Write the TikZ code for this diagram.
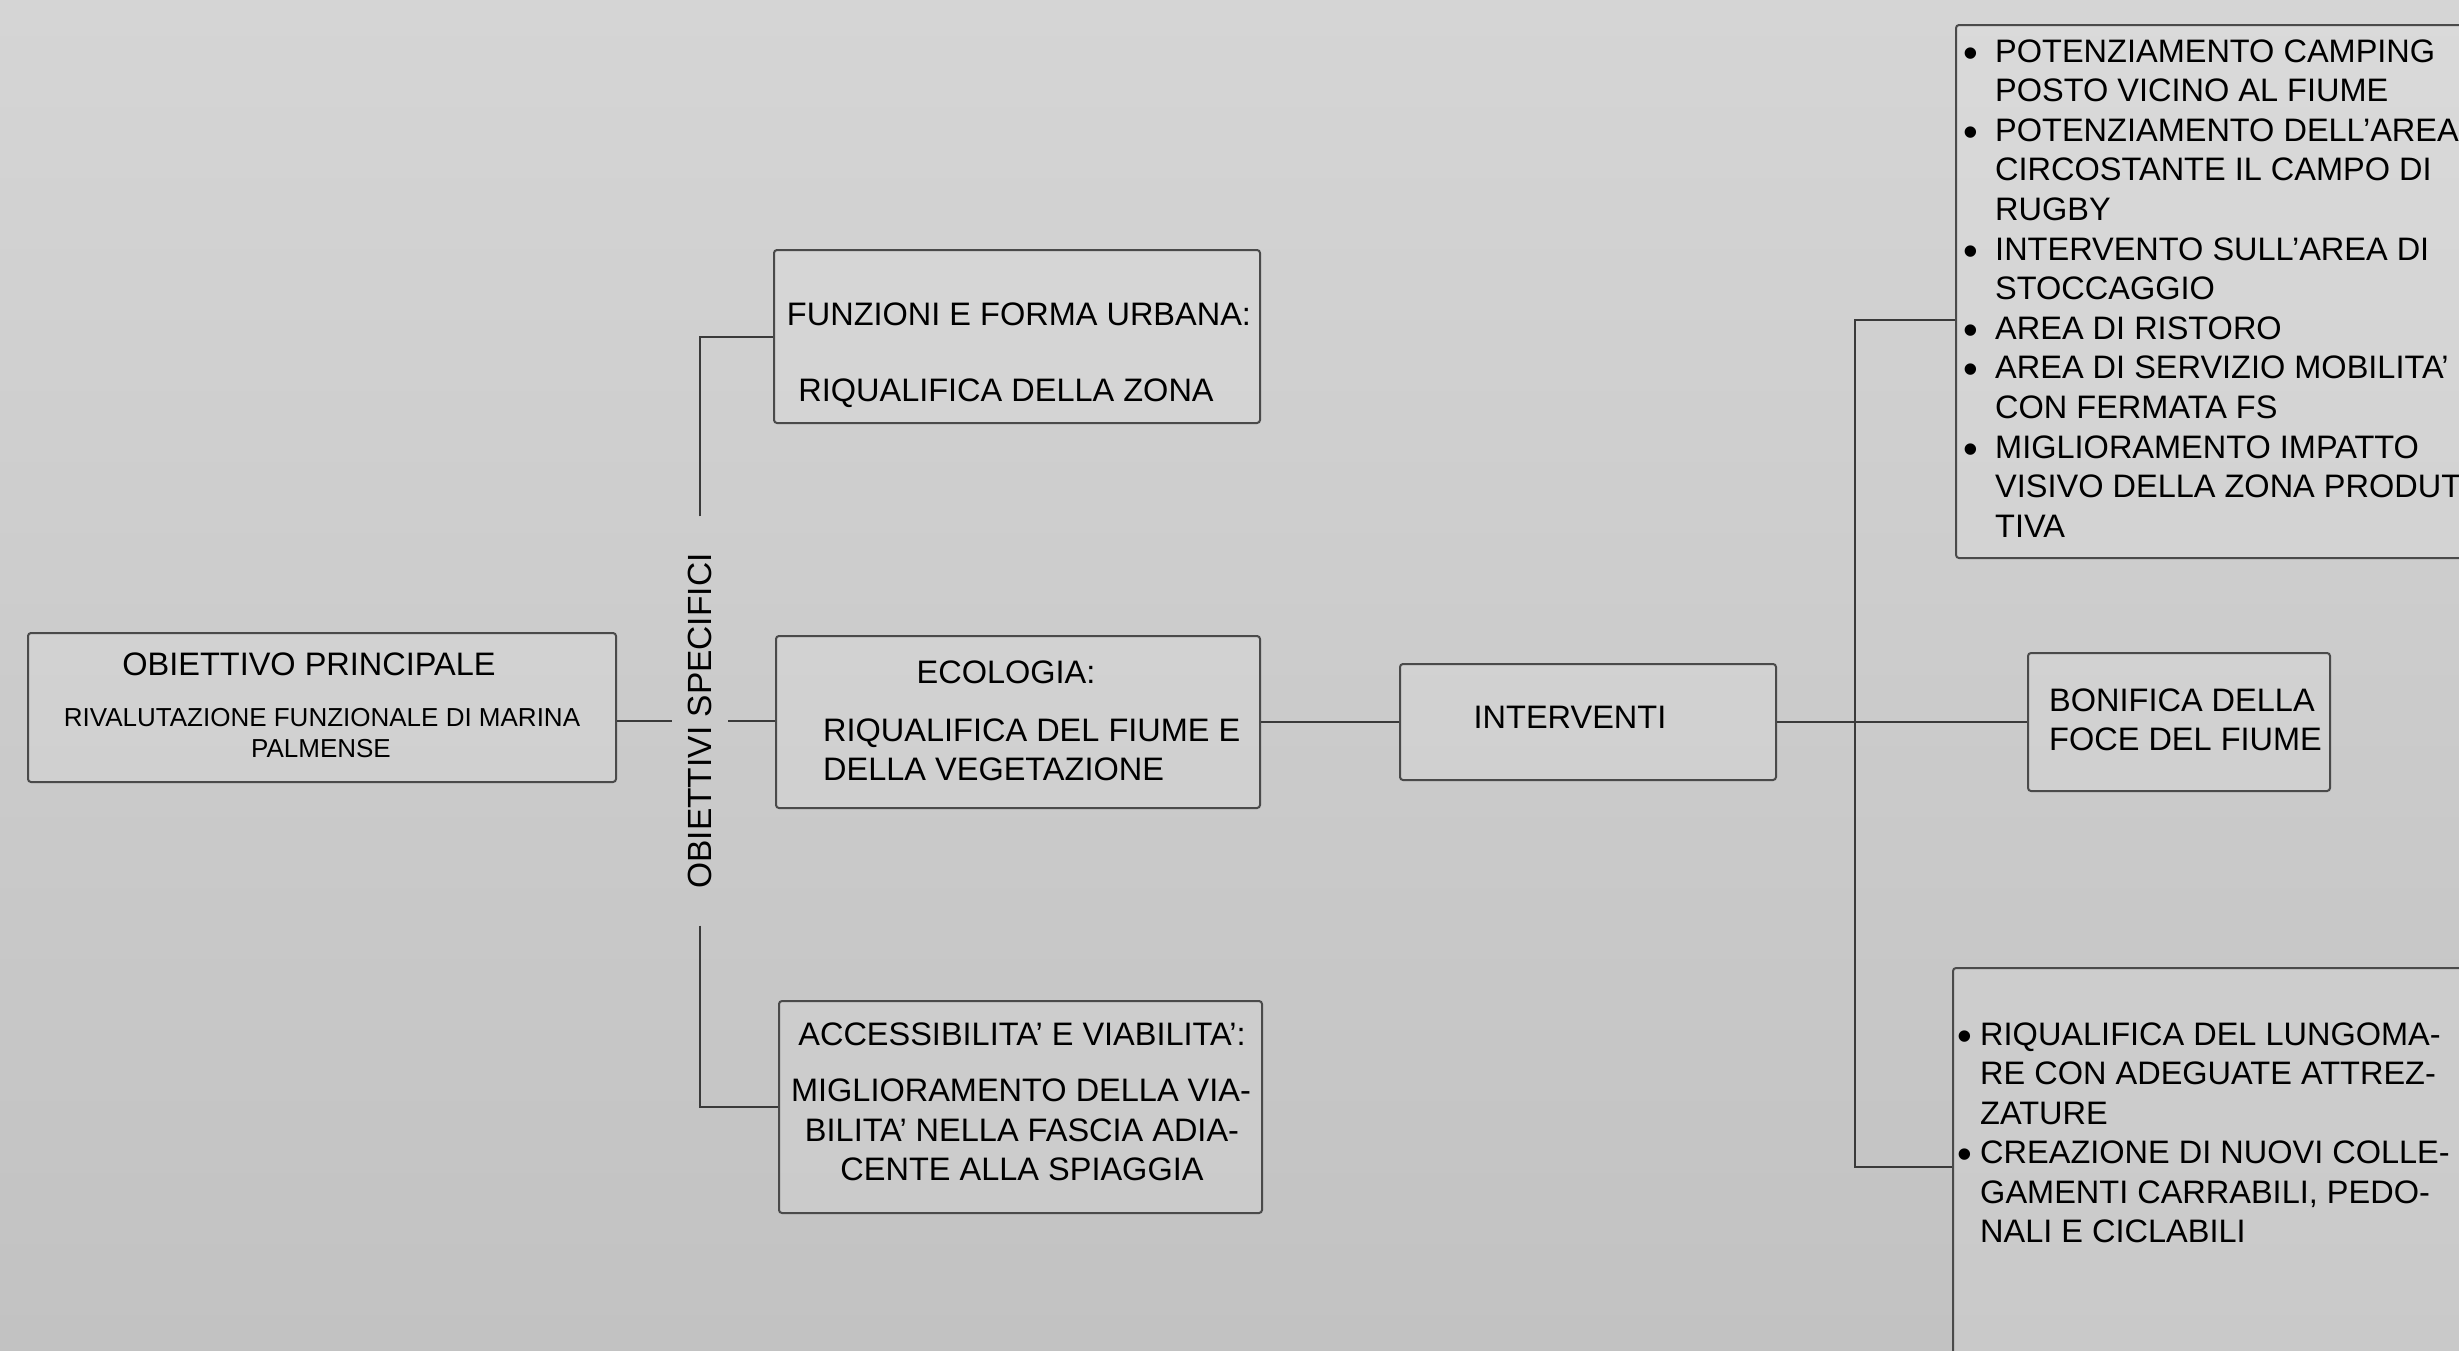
\documentclass[tikz,border=0pt]{standalone}
\usepackage{fontspec}
\setmainfont{Liberation Sans}
\definecolor{bgtop}{HTML}{D5D5D5}
\definecolor{bgbot}{HTML}{C2C2C2}
\definecolor{boxline}{HTML}{4A4A4A}
\definecolor{lineclr}{HTML}{3A3A3A}
\newcommand\bigbul{\smash{\raisebox{-5pt}{\fontsize{42}{42}\selectfont •}}}
\newcommand\bulA{\llap{\bigbul\hspace{17.5pt}}}
\newcommand\bulB{\llap{\bigbul\hspace{8.5pt}}}
\begin{document}
\begin{tikzpicture}[x=1pt,y=-1pt,
  box/.style={draw=boxline, line width=2pt, fill=white, fill opacity=0.12, rounded corners=3pt, inner sep=0pt, anchor=north west},
  txt/.style={inner sep=0pt, text=black, font=\fontsize{32.5}{39.5}\selectfont},
  small/.style={font=\fontsize{26}{31}\selectfont},
  conn/.style={draw=lineclr, line width=2pt}]
\useasboundingbox (0,0) rectangle (2459,1350);
\clip (0,0) rectangle (2459,1350);
\shade[top color=bgtop, bottom color=bgbot] (0,0) rectangle (2459,1350);

% boxes
\node[box, minimum width=588pt, minimum height=149pt] (obj) at (27,632) {};
\node[box, minimum width=486pt, minimum height=173pt] (fun) at (773,249) {};
\node[box, minimum width=484pt, minimum height=172pt] (eco) at (775,635) {};
\node[box, minimum width=483pt, minimum height=212pt] (acc) at (778,1000) {};
\node[box, minimum width=376pt, minimum height=116pt] (int) at (1399,663) {};
\node[box, minimum width=302pt, minimum height=138pt] (bon) at (2027,652) {};
\node[box, minimum width=600pt, minimum height=533pt] (tr) at (1955,24) {};
\node[box, minimum width=600pt, minimum height=450pt] (br) at (1952,967) {};

% vertical label
\node[txt, font=\fontsize{33.5}{40}\selectfont, rotate=90, inner xsep=37pt, inner ysep=16pt] (os) at (700,721) {OBIETTIVI SPECIFICI};

% texts
\node[txt, anchor=base] (tobj1) at (309,675) {OBIETTIVO PRINCIPALE};
\node[txt, small, anchor=base] (tobj2) at (322,726) {RIVALUTAZIONE FUNZIONALE DI MARINA};
\node[txt, small, anchor=base] (tobj3) at (321,757) {PALMENSE};
\node[txt, anchor=base] (tfun1) at (1019,325) {FUNZIONI E FORMA URBANA:};
\node[txt, anchor=base] (tfun2) at (1006,401) {RIQUALIFICA DELLA ZONA};
\node[txt, anchor=base] (teco1) at (1006,683) {ECOLOGIA:};
\node[txt, anchor=base west] (teco2) at (823,741) {RIQUALIFICA DEL FIUME E};
\node[txt, anchor=base west] (teco3) at (823,780) {DELLA VEGETAZIONE};
\node[txt, anchor=base] (tacc1) at (1022,1045) {ACCESSIBILITA’ E VIABILITA’:};
\node[txt, anchor=base] (tacc2) at (1021,1101) {MIGLIORAMENTO DELLA VIA-};
\node[txt, anchor=base] (tacc3) at (1022,1141) {BILITA’ NELLA FASCIA ADIA-};
\node[txt, anchor=base] (tacc4) at (1022,1180) {CENTE ALLA SPIAGGIA};
\node[txt, anchor=base] (tint) at (1570,728) {INTERVENTI};
\node[txt, anchor=base west] (tbon1) at (2049,711) {BONIFICA DELLA};
\node[txt, anchor=base west] (tbon2) at (2049,750) {FOCE DEL FIUME};

\foreach \t [count=\i from 0] in {{\bulA POTENZIAMENTO CAMPING},{POSTO VICINO AL FIUME},{\bulA POTENZIAMENTO DELL’AREA},{CIRCOSTANTE IL CAMPO DI},{RUGBY},{\bulA INTERVENTO SULL’AREA DI},{STOCCAGGIO},{\bulA AREA DI RISTORO},{\bulA AREA DI SERVIZIO MOBILITA’},{CON FERMATA FS},{\bulA MIGLIORAMENTO IMPATTO},{VISIVO DELLA ZONA PRODUT},{TIVA}}
  \node[txt, anchor=base west] (ttr\i) at (1995,{62+39.6*\i}) {\t};

\foreach \t [count=\i from 0] in {{\bulB RIQUALIFICA DEL LUNGOMA-},{RE CON ADEGUATE ATTREZ-},{ZATURE},{\bulB CREAZIONE DI NUOVI COLLE-},{GAMENTI CARRABILI, PEDO-},{NALI E CICLABILI}}
  \node[txt, anchor=base west] (tbr\i) at (1980,{1045+39.5*\i}) {\t};

% connectors
\draw[conn] (obj.east |- os.north) -- (os.north);
\draw[conn] (os.south) -- (os.south -| eco.west);
\draw[conn] (os.east) |- (fun.west);
\draw[conn] (os.west) |- (acc.west);
\draw[conn] (eco.east) -- (int.west);
\draw[conn] (int.east) -- (bon.west);
\coordinate (jt) at (1855,320);
\coordinate (jb) at (1855,1167);
\draw[conn] (tr.west |- jt) -- (jt) -- (jb) -- (jb -| br.west);
\end{tikzpicture}
\end{document}
